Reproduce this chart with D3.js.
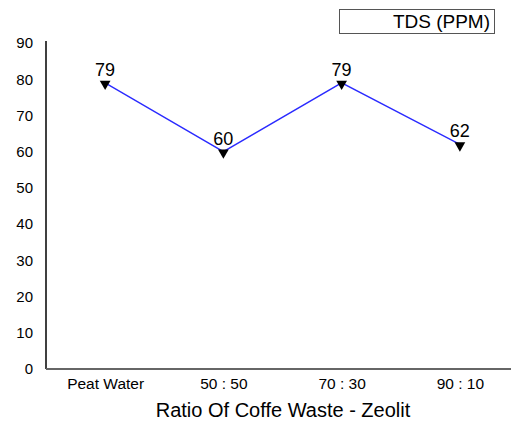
<!DOCTYPE html>
<html lang="en">
    <head>
        <meta charset="utf-8">
        <title>TDS Chart</title>
        <script src="https://d3js.org/d3.v7.min.js"></script>
        <style type="text/css">
          body { margin: 0; background: #fff; }
          svg { width: 511px; height: 421px; display: block; }
          text { font-family: "Liberation Sans", Arial, sans-serif; fill: #000; }
        </style>
    </head>
    <body>
        <svg></svg>
        <script type="text/javascript">

        // data
        const categories = ["Peat Water", "50 : 50", "70 : 30", "90 : 10"];
        const tds = [79, 60, 79, 62];
        const yTicks = [0, 10, 20, 30, 40, 50, 60, 70, 80, 90];
        const seriesName = "TDS (PPM)";

        const svg = d3.select("svg");
        const plotLeft = 46, plotBottom = 369, plotTop = 43;

        const x = d3.scalePoint()
                    .domain(categories)
                    .range([plotLeft, 519])
                    .padding(0.5);
        const y = d3.scaleLinear()
                    .domain([0, 90])
                    .range([plotBottom, plotTop]);

        // y axis
        const yAxis = svg.append("g")
           .attr("transform", "translate(" + plotLeft + ",0)")
           .call(d3.axisLeft(y).tickValues(yTicks).tickSize(0).tickPadding(13));
        yAxis.select(".domain").remove();
        yAxis.selectAll("text")
             .attr("font-size", 15)
             .attr("font-family", "Liberation Sans, Arial, sans-serif");
        svg.append("line")
           .attr("x1", plotLeft).attr("x2", plotLeft)
           .attr("y1", plotTop - 2).attr("y2", plotBottom)
           .attr("stroke", "#000").attr("stroke-width", 1.5);

        // x axis
        const xAxis = svg.append("g")
           .attr("transform", "translate(0," + plotBottom + ")")
           .call(d3.axisBottom(x).tickSize(0).tickPadding(9));
        xAxis.select(".domain").remove();
        xAxis.selectAll("text")
             .attr("font-size", 15.5)
             .attr("font-family", "Liberation Sans, Arial, sans-serif");
        svg.append("line")
           .attr("x1", plotLeft).attr("x2", 511)
           .attr("y1", plotBottom).attr("y2", plotBottom)
           .attr("stroke", "#666").attr("stroke-width", 2);

        // line
        const line = d3.line()
                       .x((d, i) => x(categories[i]))
                       .y(d => y(d));
        svg.append("path")
           .attr("d", line(tds))
           .attr("fill", "none")
           .attr("stroke", "#2a2aff")
           .attr("stroke-width", 1.3);

        // markers (down triangles)
        const tri = d3.symbol().type(d3.symbolTriangle).size(50);
        svg.selectAll(".marker")
           .data(tds)
           .enter()
           .append("path")
           .attr("class", "marker")
           .attr("d", tri)
           .attr("transform", (d, i) => "translate(" + x(categories[i]) + "," + (y(d) + 1) + ") rotate(180)")
           .attr("fill", "#000");

        // value labels
        svg.selectAll(".vals")
           .data(tds)
           .enter()
           .append("text")
           .attr("class", "vals")
           .attr("x", (d, i) => x(categories[i]))
           .attr("y", d => y(d) - 7)
           .attr("text-anchor", "middle")
           .attr("font-size", 18)
           .text(d => d);

        // axis title
        svg.append("text")
           .attr("x", 283)
           .attr("y", 417)
           .attr("text-anchor", "middle")
           .attr("font-size", 20)
           .text("Ratio Of Coffe Waste - Zeolit");

        // legend
        svg.append("rect")
           .attr("x", 339.5).attr("y", 9.5)
           .attr("width", 155).attr("height", 24)
           .attr("fill", "#fff")
           .attr("stroke", "#555").attr("stroke-width", 1);
        svg.append("text")
           .attr("x", 490)
           .attr("y", 28)
           .attr("text-anchor", "end")
           .attr("font-size", 19)
           .text(seriesName);
        </script>
    </body>
</html>
